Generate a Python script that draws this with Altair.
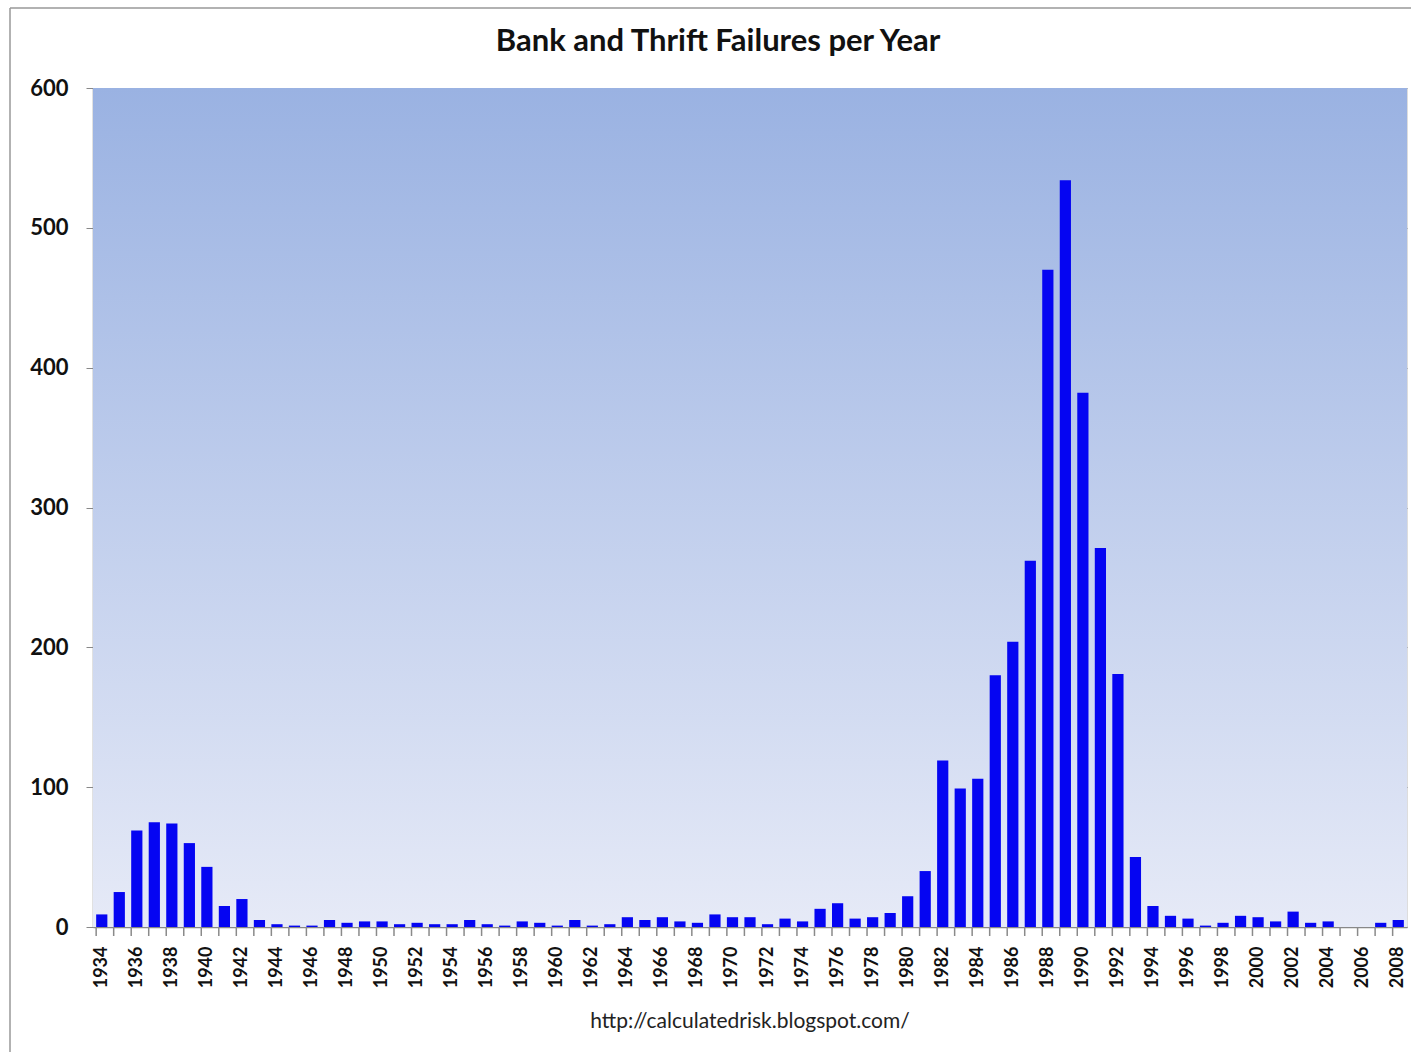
import altair as alt
import pandas as pd

years = list(range(1934, 2009))
failures = [
    9, 25, 69, 75, 74, 60, 43, 15, 20, 5,      # 1934-1943
    2, 1, 1, 5, 3, 4, 4, 2, 3, 2,              # 1944-1953
    2, 5, 2, 1, 4, 3, 1, 5, 1, 2,              # 1954-1963
    7, 5, 7, 4, 3, 9, 7, 7, 2, 6,              # 1964-1973
    4, 13, 17, 6, 7, 10, 22, 40, 119, 99,      # 1974-1983
    106, 180, 204, 262, 470, 534, 382, 271, 181, 50,  # 1984-1993
    15, 8, 6, 1, 3, 8, 7, 4, 11, 3,            # 1994-2003
    4, 0, 0, 3, 5,                             # 2004-2008
]
y_ticks = [0, 100, 200, 300, 400, 500, 600]
title_text = "Bank and Thrift Failures per Year"
source_text = "http://calculatedrisk.blogspot.com/"

df = pd.DataFrame({"year": [str(y) for y in years], "failures": failures})

W, H = 1314, 839
FONT = "Lato"

bg = alt.Chart(pd.DataFrame({"a": [0]})).mark_rect(
    color=alt.Gradient(
        gradient="linear",
        stops=[alt.GradientStop(color="#9AB2E2", offset=0),
               alt.GradientStop(color="#E6EAF7", offset=1)],
        x1=0, x2=0, y1=0, y2=1,
    )
).encode(x=alt.value(0), x2=alt.value(W), y=alt.value(0), y2=alt.value(H))

xenc = alt.X(
    "year:O",
    sort=None,
    title=None,
    scale=alt.Scale(paddingInner=0.36, paddingOuter=0.18),
    axis=alt.Axis(
        labelAngle=-90,
        labelFont=FONT,
        labelFontSize=18,
        labelFontWeight="bold",
        labelColor="#111111",
        labelExpr="toNumber(datum.value) % 2 == 0 ? datum.value : ''",
        labelPadding=19,
        labelBaseline="middle",
        labelAlign="right",
        ticks=False,
        domainColor="#888888",
        domainWidth=1.5,
        labelOverlap=False,
    ),
)

bars = alt.Chart(df).mark_bar(color="#0505F2").encode(
    x=xenc,
    y=alt.Y(
        "failures:Q",
        title=None,
        scale=alt.Scale(domain=[0, 600], nice=False),
        axis=alt.Axis(
            values=y_ticks,
            labelFont=FONT,
            labelFontSize=22,
            labelFontWeight="bold",
            labelColor="#111111",
            labelPadding=18,
            tickSize=7,
            tickColor="#888888",
            domainColor="#888888",
            domainWidth=1.5,
            grid=True,
            gridColor="#8A8F99",
            gridWidth=1.2,
        ),
    ),
)

xticks = alt.Chart(df).mark_rule(color="#8A8A8A", strokeWidth=1.5).encode(
    x=alt.X("year:O", sort=None, bandPosition=0),
    y=alt.value(H),
    y2=alt.value(H + 9),
)

title = alt.Chart(pd.DataFrame({"t": [title_text]})).mark_text(
    font=FONT, fontSize=31, fontWeight="bold", color="#111111",
    align="center", baseline="middle"
).encode(text="t:N", x=alt.value(625), y=alt.value(-46))

footer = alt.Chart(pd.DataFrame({"t": [source_text]})).mark_text(
    font=FONT, fontSize=21, color="#222222", align="center", baseline="middle"
).encode(text="t:N", x=alt.value(657), y=alt.value(H + 95))

border_left = alt.Chart(pd.DataFrame({"a": [0]})).mark_rule(color="#999999", strokeWidth=1.5).encode(
    x=alt.value(-83), y=alt.value(-80), y2=alt.value(H + 125)
)
border_top = alt.Chart(pd.DataFrame({"a": [0]})).mark_rule(color="#999999", strokeWidth=1.5).encode(
    x=alt.value(-83), x2=alt.value(W + 4), y=alt.value(-80)
)

chart = alt.layer(bg, bars, xticks, title, footer, border_left, border_top).properties(
    width=W,
    height=H,
    autosize=alt.AutoSizeParams(type="none"),
    padding={"left": 93, "top": 88, "right": 4, "bottom": 125},
).configure_view(stroke=None).configure(background="white")

chart.save("out.html", embed_options={"renderer": "svg", "actions": False})
